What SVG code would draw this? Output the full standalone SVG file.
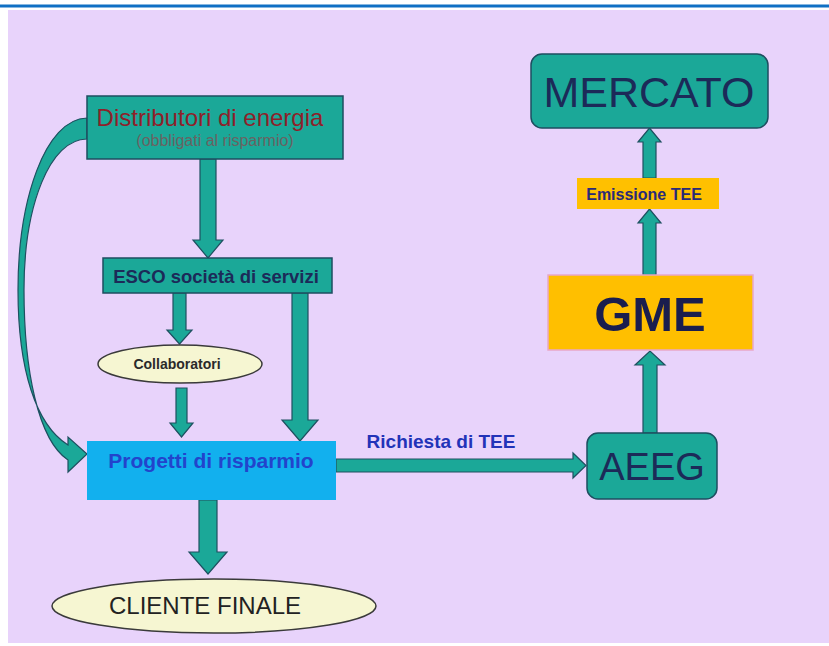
<svg xmlns="http://www.w3.org/2000/svg" width="829" height="646" viewBox="0 0 829 646">
<style>
.box{fill:#1BA898;stroke:#1E4E60;stroke-width:1.5}
.arr{fill:#1BA898;stroke:#1E5060;stroke-width:1.2;stroke-linejoin:miter}
.ell{fill:#F6F6D2;stroke:#3A3A3A;stroke-width:1.5}
.t{font-family:"Liberation Sans",Arial,sans-serif;text-anchor:middle}
.b{font-weight:bold}
</style>
<rect x="0" y="0" width="829" height="646" fill="#FFFFFF"/>
<rect x="0" y="4.5" width="829" height="3" fill="#1070C4"/>
<rect x="8" y="10" width="821" height="633" fill="#E8D3FB"/>

<g id="connectors">
  <!-- curved arrow Distributori -> Progetti -->
  <path class="arr" fill="#1E9A8E" d="M87,118 C45,119 18,200 18,290 C18,370 36,425 68,445 L68,437 L87,454 L68,472 L68,460 C38,440 24,370 24,290 C24,205 50,139 87,139 Z"/>
  <!-- Distributori -> ESCO -->
  <path class="arr" d="M200,159 L216,159 L216,240 L223,240 L208,258 L193,240 L200,240 Z"/>
  <!-- ESCO -> Collaboratori -->
  <path class="arr" d="M173,293 L186,293 L186,330 L192,330 L179.5,344 L167,330 L173,330 Z"/>
  <!-- ESCO -> Progetti -->
  <path class="arr" d="M292,293 L308,293 L308,420 L318,420 L300,441 L282,420 L292,420 Z"/>
  <!-- Collaboratori -> Progetti -->
  <path class="arr" d="M176,388 L187,388 L187,423 L193,423 L181.5,437 L170,423 L176,423 Z"/>
  <!-- Progetti -> Cliente -->
  <path class="arr" d="M199,500 L217,500 L217,552 L227,552 L208,574 L189,552 L199,552 Z"/>
  <!-- Progetti -> AEEG -->
  <path class="arr" d="M336,459 L573,459 L573,453 L586,465.5 L573,478 L573,472 L336,472 Z"/>
  <!-- AEEG -> GME -->
  <path class="arr" d="M643,433 L657,433 L657,365 L665,365 L650,351 L635,365 L643,365 Z"/>
  <!-- GME -> Emissione -->
  <path class="arr" d="M643,275 L656,275 L656,223 L661,223 L649.5,209 L638,223 L643,223 Z"/>
  <!-- Emissione -> MERCATO -->
  <path class="arr" d="M643,178 L656,178 L656,142 L661,142 L649.5,128 L638,142 L643,142 Z"/>
  <text class="t b" x="441" y="448" font-size="19" fill="#2233B8">Richiesta di TEE</text>
</g>

<g id="distributori">
  <rect class="box" x="87" y="96" width="256" height="63"/>
  <text class="t" x="210" y="126" font-size="24" fill="#8E1F2A">Distributori di energia</text>
  <text class="t" x="215" y="146" font-size="16" fill="#6A6262">(obbligati al risparmio)</text>
</g>

<g id="esco">
  <rect class="box" x="103" y="258" width="229" height="35"/>
  <text class="t b" x="216" y="283" font-size="18.5" fill="#1C2A58">ESCO società di servizi</text>
</g>

<g id="collaboratori">
  <ellipse class="ell" cx="180" cy="364" rx="82" ry="19"/>
  <text class="t b" x="177" y="369" font-size="14" fill="#2A2A2A">Collaboratori</text>
</g>

<g id="progetti">
  <rect x="87" y="441" width="249" height="59" fill="#12B0EE"/>
  <text class="t b" x="211" y="468" font-size="21" fill="#2244CC">Progetti di risparmio</text>
</g>

<g id="cliente">
  <ellipse class="ell" cx="214" cy="606" rx="162" ry="27"/>
  <text class="t" x="205" y="614" font-size="24" fill="#222222">CLIENTE FINALE</text>
</g>

<g id="aeeg">
  <rect class="box" x="587" y="433" width="130" height="66" rx="11" ry="11"/>
  <text class="t" x="652" y="480" font-size="38" fill="#1C2A58">AEEG</text>
</g>

<g id="gme">
  <rect x="548" y="275" width="205" height="75" fill="#FFBF00" stroke="#E8A8C8" stroke-width="1.5"/>
  <text class="t b" x="650" y="331" font-size="49" fill="#1A1E4E">GME</text>
</g>

<g id="emissione">
  <rect x="577" y="178" width="142" height="31" fill="#FFC000"/>
  <text class="t b" x="644" y="200" font-size="16" fill="#2A2A78">Emissione TEE</text>
</g>

<g id="mercato">
  <rect class="box" x="531" y="54" width="237" height="74" rx="11" ry="11"/>
  <text class="t" x="649" y="107" font-size="43" fill="#1C2A58">MERCATO</text>
</g>
</svg>
